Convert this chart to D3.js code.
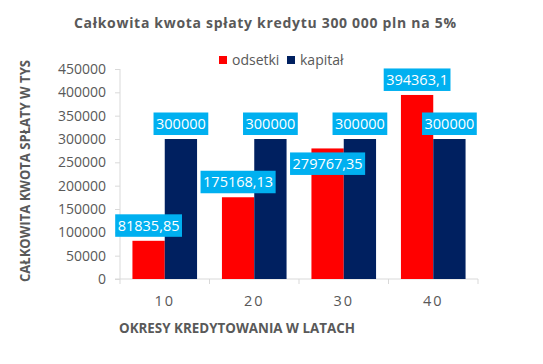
<!DOCTYPE html>
<html><head><meta charset="utf-8">
<script src="https://cdn.jsdelivr.net/npm/d3@7"></script>
<style>body{margin:0;background:#fff}svg{display:block}text{font-family:"Open Sans",sans-serif}</style>
</head><body>
<svg id="c" width="543" height="364"></svg>
<script>
const categories = ["10", "20", "30", "40"];
const seriesNames = ["odsetki", "kapitał"];
const odsetki = [81835.85, 175168.13, 279767.35, 394363.1];
const kapital = [300000, 300000, 300000, 300000];
const yTicks = [0, 50000, 100000, 150000, 200000, 250000, 300000, 350000, 400000, 450000];
const odsetkiLabelInside = [false, false, true, false];

const colors = {odsetki: "#FF0000", "kapitał": "#002060"};
const svg = d3.select("#c");
const gray = "#595959";

const y = d3.scaleLinear().domain([0, 450000]).range([279, 69]);
const x = d3.scaleBand().domain(categories).range([120, 478]).paddingInner(0).paddingOuter(0);
const xs = d3.scaleBand().domain(seriesNames).range([0, x.bandwidth()]).paddingInner(0).paddingOuter(0.385);

// title
svg.append("text").attr("x", 74).attr("y", 28).attr("textLength", 382).attr("lengthAdjust", "spacing")
  .attr("font-size", 14).attr("font-weight", "bold").attr("fill", gray)
  .text("Całkowita kwota spłaty kredytu 300 000 pln na 5%");

// legend
const leg = [{name: "odsetki", x: 219}, {name: "kapitał", x: 287}];
leg.forEach(l => {
  svg.append("rect").attr("x", l.x).attr("y", 56).attr("width", 8).attr("height", 8).attr("fill", colors[l.name]);
  svg.append("text").attr("x", l.x + 13).attr("y", 64.5).attr("font-size", 14).attr("fill", gray).text(l.name);
});

// y axis
const yAxis = d3.axisLeft(y).tickValues(yTicks).tickSize(5).tickPadding(9).tickFormat(d3.format("d"));
const gy = svg.append("g").attr("transform", "translate(120,0)").call(yAxis);
gy.select(".domain").attr("stroke", "#D9D9D9").attr("d", "M0,69V279");
gy.selectAll(".tick line").attr("stroke", "#D9D9D9");
gy.selectAll(".tick text").attr("font-size", 14).attr("fill", gray).attr("font-family", "Open Sans");

// x axis
const gx = svg.append("g").attr("transform", "translate(0,279)");
gx.append("line").attr("x1", 115).attr("x2", 478).attr("y1", 0).attr("y2", 0).attr("stroke", "#D9D9D9");
const bounds = categories.map(c => x(c)).concat([x(categories[categories.length - 1]) + x.bandwidth()]);
gx.selectAll("line.tk").data(bounds).join("line").attr("class", "tk")
  .attr("x1", d => d).attr("x2", d => d).attr("y1", 0).attr("y2", 5).attr("stroke", "#D9D9D9");
gx.selectAll("text.xl").data(categories).join("text").attr("class", "xl")
  .attr("x", d => x(d) + x.bandwidth() / 2).attr("y", 27).attr("text-anchor", "middle")
  .attr("font-size", 14.5).attr("letter-spacing", 2).attr("fill", gray).text(d => d);

// axis titles
svg.append("text").attr("x", 119).attr("y", 333).attr("textLength", 236).attr("lengthAdjust", "spacingAndGlyphs")
  .attr("font-size", 14).attr("font-weight", "bold").attr("fill", gray).text("OKRESY KREDYTOWANIA W LATACH");
svg.append("text").attr("transform", "translate(30,282) rotate(-90)").attr("textLength", 222).attr("lengthAdjust", "spacingAndGlyphs")
  .attr("font-size", 14).attr("font-weight", "bold").attr("fill", gray).text("CAŁKOWITA KWOTA SPŁATY W TYS");

// bars
const data = [];
categories.forEach((c, i) => {
  data.push({cat: c, s: "odsetki", v: odsetki[i], inside: odsetkiLabelInside[i]});
  data.push({cat: c, s: "kapitał", v: kapital[i], inside: false});
});
svg.append("g").selectAll("rect").data(data).join("rect")
  .attr("x", d => x(d.cat) + xs(d.s)).attr("width", xs.bandwidth())
  .attr("y", d => y(d.v)).attr("height", d => y(0) - y(d.v)).attr("fill", d => colors[d.s]);

// labels
const fmt = v => String(v).replace(".", ",");
const lg = svg.append("g");
data.forEach(d => {
  const cx = x(d.cat) + xs(d.s) + xs.bandwidth() / 2;
  const g = lg.append("g");
  const t = g.append("text").attr("x", cx).attr("text-anchor", "middle").attr("font-size", 14.5).attr("fill", "#fff").text(fmt(d.v));
  const w = t.node().getComputedTextLength() + 5;
  const h = 22.5;
  const top = d.inside ? y(d.v) + 4 : y(d.v) - 4 - h;
  g.insert("rect", "text").attr("x", cx - w / 2).attr("y", top).attr("width", w).attr("height", h).attr("fill", "#00B0F0");
  t.attr("y", top + h / 2 + 5.2);
});
</script>
</body></html>
